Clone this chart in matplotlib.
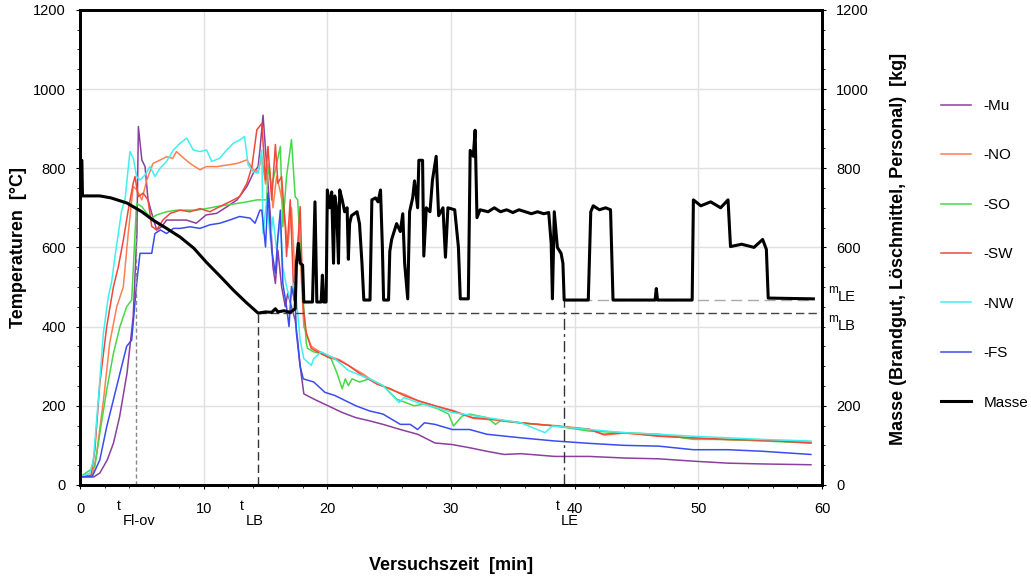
import matplotlib
matplotlib.use("Agg")
import matplotlib.pyplot as plt
import matplotlib.transforms as mtransforms
from matplotlib.ticker import MultipleLocator

plt.rcParams['font.family'] = ['Liberation Sans', 'DejaVu Sans']

# Temperatures [degC]
t_mu = [0, 1.1, 1.6, 2.2, 2.7, 3.2, 3.8, 4.3, 4.6, 4.72, 5.0, 5.26, 5.5, 5.8, 6.2, 6.6, 7.0, 7.8, 8.6, 9.4, 10.2, 11.05,
        11.9, 12.7, 13.5, 14.0, 14.4, 14.55, 14.8, 15.1, 15.4, 15.6, 15.8, 16.0, 16.3, 16.6, 16.8, 17.1, 17.4, 17.6, 17.8,
        18.1, 18.9, 20.05, 21.2, 22.3, 23.4, 24.5, 25.9, 27.3, 28.7, 30.1, 31.5, 32.9, 34.3, 35.65, 38.4, 41.2, 44.0,
        46.8, 49.6, 52.4, 55.2, 59.1]
mu = [20, 20, 30, 63, 105, 172, 282, 425, 635, 905, 821, 804, 720, 686, 644, 652, 669, 669, 669, 661, 682, 686,
      703, 720, 754, 787, 804, 846, 934, 804, 677, 551, 509, 593, 501, 450, 484, 450, 416, 366, 300,
      230, 217, 200, 183, 170, 162, 153, 140, 128, 106, 102, 94, 85, 77, 79, 72, 72, 68,
      66, 60, 55, 53, 51]

t_no = [0, 1.0, 1.35, 1.9, 2.4, 2.97, 3.5, 3.9, 4.3, 4.6, 5.0, 5.4, 5.9, 6.5, 7.0, 7.5, 7.8, 8.4, 8.9, 9.7, 10.2, 11.05,
        11.9, 12.7, 13.5, 14.0, 14.4, 14.7, 15.0, 15.3, 15.6, 15.9, 16.2, 16.5, 16.8, 17.1, 17.4, 17.7, 18.1, 18.7,
        19.3, 20.1, 21.0, 21.8, 22.9, 24.0, 25.2, 26.3, 27.4, 28.8, 30.2, 31.8, 33.5, 35.7, 38.4, 41.2, 42.4, 44.0,
        46.8, 49.6, 52.4, 55.2, 59.1]
no = [20, 22, 80, 215, 358, 450, 500, 635, 754, 745, 720, 770, 812, 821, 829, 825, 842, 825, 812, 796, 804, 804,
      808, 812, 821, 796, 791, 830, 760, 810, 700, 780, 740, 690, 600, 700, 520, 640, 400, 350,
      338, 326, 316, 300, 280, 256, 240, 228, 212, 199, 188, 168, 164, 156, 150, 141, 126, 131,
      124, 118, 114, 112, 108]

t_so = [0, 1.2, 1.6, 2.16, 2.7, 3.23, 3.77, 4.18, 4.45, 4.58, 5.0, 5.4, 5.8, 6.2, 7.0, 7.8, 8.6, 9.4, 10.2, 11.05, 11.9,
        12.7, 13.5, 14.3, 14.5, 15.1, 15.2, 15.5, 15.8, 16.2, 16.4, 16.7, 17.1, 17.4, 17.6, 17.8, 18.05, 18.3, 18.4,
        18.9, 19.5, 20.3, 20.75, 21.2, 21.45, 21.7, 22.0, 22.6, 23.4, 24.5, 25.6, 27.0, 27.85, 28.95, 29.8, 30.2,
        30.9, 31.5, 32.9, 33.6, 34.0, 35.65, 38.4, 41.2, 44.0, 46.8, 49.6, 52.4, 55.2, 59.1]
so = [20, 46, 130, 240, 332, 400, 450, 467, 635, 711, 703, 686, 674, 682, 690, 694, 694, 694, 698, 703, 707,
      711, 715, 720, 720, 720, 804, 754, 796, 855, 652, 779, 872, 728, 720, 610, 467, 358, 345,
      336, 332, 319, 285, 243, 268, 251, 268, 260, 268, 251, 217, 200, 204, 192, 179, 149,
      174, 179, 170, 153, 162, 157, 149, 136, 132, 128, 115, 115, 111, 106]

t_sw = [0, 0.9, 1.2, 1.6, 2.16, 2.7, 3.1, 3.5, 3.9, 4.3, 4.45, 4.7, 5.1, 5.5, 5.8, 6.2, 6.7, 7.3, 8.1, 8.9, 9.7, 10.5,
        11.3, 12.1, 12.9, 13.5, 13.9, 14.3, 14.7, 15.0, 15.2, 15.5, 15.8, 16.0, 16.3, 16.6, 16.7, 17.0, 17.3, 17.5,
        17.8, 18.05, 18.3, 18.7, 19.2, 20.05, 20.9, 21.7, 22.8, 24.0, 25.1, 26.2, 27.3, 28.7, 30.1, 31.75, 33.4,
        35.65, 38.4, 41.2, 42.3, 44.0, 46.8, 49.6, 52.4, 55.2, 59.1]
sw = [20, 25, 88, 256, 400, 500, 551, 618, 694, 762, 779, 728, 737, 720, 653, 644, 669, 686, 694, 690, 698, 690,
      703, 715, 728, 762, 804, 897, 913, 771, 855, 720, 860, 762, 779, 652, 577, 720, 467, 551,
      703, 450, 383, 345, 336, 323, 315, 302, 277, 255, 243, 226, 213, 200, 187, 170, 166,
      157, 149, 140, 128, 132, 123, 119, 115, 113, 106]

t_nw = [0, 0.8, 1.08, 1.48, 1.89, 2.29, 2.56, 2.83, 3.1, 3.37, 3.64, 3.91, 4.04, 4.31, 4.58, 4.85, 5.26, 5.66, 6.06,
        6.47, 7.0, 7.55, 8.09, 8.63, 9.16, 9.7, 10.24, 10.65, 11.3, 11.86, 12.4, 12.9, 13.3, 13.6, 14.0, 14.4, 14.7,
        14.8, 15.1, 15.4, 15.6, 15.9, 16.2, 16.4, 16.7, 17.0, 17.3, 17.5, 17.8, 18.1, 18.7, 18.9, 19.5, 20.6, 21.7,
        23.4, 24.5, 25.8, 26.2, 27.3, 28.7, 30.1, 32.9, 35.65, 37.6, 38.2, 41.2, 44.0, 46.8, 49.6, 52.4, 55.2, 59.1]
nw = [20, 30, 63, 215, 383, 476, 513, 577, 635, 694, 720, 804, 842, 825, 779, 770, 783, 804, 779,
      800, 817, 846, 863, 876, 846, 842, 846, 817, 825, 846, 863, 871, 880, 808, 791, 787, 846,
      635, 720, 618, 677, 593, 669, 551, 501, 467, 509, 467, 366, 319, 302, 319, 336, 319, 289,
      268, 251, 208, 221, 208, 196, 183, 170, 157, 132, 149, 140, 132, 128, 123, 119, 115, 111]

t_fs = [0, 1.0, 1.6, 2.16, 2.7, 3.23, 3.77, 4.18, 4.58, 4.85, 5.4, 5.8, 6.06, 6.5, 7.0, 7.55, 8.1, 8.9, 9.7, 10.5, 11.3,
        12.1, 12.9, 13.75, 14.15, 14.55, 14.7, 15.0, 15.2, 15.5, 15.8, 16.0, 16.2, 16.4, 16.7, 16.9, 17.1, 17.4, 17.5,
        17.8, 18.05, 18.9, 19.8, 20.6, 21.45, 22.3, 23.4, 24.5, 25.9, 26.7, 27.3, 27.85, 28.7, 30.1, 31.5, 32.9,
        35.65, 38.4, 41.2, 44.0, 46.8, 49.6, 52.4, 55.2, 59.1]
fs = [20, 22, 63, 147, 215, 282, 350, 366, 509, 585, 585, 585, 635, 644, 635, 648, 648, 652, 648, 657, 661,
      669, 678, 674, 661, 694, 694, 601, 737, 593, 534, 627, 694, 509, 450, 400, 501, 458, 383,
      300, 268, 260, 234, 226, 213, 200, 187, 179, 153, 153, 140, 157, 153, 140, 140, 128,
      119, 111, 105, 100, 98, 89, 89, 85, 77]

# Masse [kg] (Brandgut, Loeschmittel, Personal)
t_masse = [0.0, 0.15, 0.2, 1.6, 2.5, 3.8, 5.0, 5.9, 7.0, 8.1, 9.2, 10.2, 11.3, 12.4, 13.4, 14.4, 15.0, 15.5, 15.8, 16.0,
           16.5, 17.0, 17.4, 17.5, 17.65, 17.8, 18.0, 18.1, 18.8, 19.0, 19.15, 19.5, 19.6, 19.7, 19.9, 20.0, 20.2,
           20.35, 20.5, 20.6, 20.75, 20.9, 21.0, 21.2, 21.4, 21.6, 21.7, 21.8, 21.95, 22.4, 22.6, 22.8, 22.95, 23.45,
           23.6, 23.9, 24.1, 24.3, 24.45, 24.55, 24.95, 25.05, 25.2, 25.4, 25.6, 25.9, 26.1, 26.25, 26.5, 26.65, 26.9,
           27.05, 27.3, 27.4, 27.7, 27.8, 28.0, 28.3, 28.5, 28.8, 29.0, 29.35, 29.55, 29.75, 30.3, 30.6, 30.75, 31.4,
           31.55, 31.8, 31.95, 32.1, 32.35, 33.0, 33.5, 34.0, 34.5, 35.0, 35.5, 36.0, 36.5, 37.0, 37.5, 37.9, 38.1,
           38.2, 38.35, 38.6, 38.9, 39.05, 39.15, 41.1, 41.3, 41.5, 42.0, 42.5, 42.9, 43.1, 46.5, 46.6, 46.7, 49.5,
           49.6, 50.2, 51.0, 51.8, 52.4, 52.6, 53.5, 54.5, 55.2, 55.5, 55.65, 59.3]
masse = [820, 820, 730, 730, 725, 712, 690, 669, 648, 626, 598, 563, 528, 492, 462, 434, 437, 436, 445, 437,
         440, 436, 445, 560, 610, 560, 555, 462, 462, 715, 462, 462, 530, 462, 462, 745, 700,
         740, 560, 730, 700, 560, 745, 720, 690, 700, 570, 660, 680, 690, 660, 560, 467, 467,
         720, 725, 715, 745, 600, 467, 467, 590, 620, 640, 660, 640, 685, 560, 470, 690, 725,
         768, 700, 820, 820, 578, 700, 690, 770, 830, 680, 700, 575, 700, 695, 600, 470, 470,
         845, 830, 896, 675, 695, 690, 700, 690, 695, 688, 695, 690, 685, 690, 685, 688, 610,
         470, 690, 600, 585, 560, 467, 467, 690, 705, 695, 700, 695, 467, 467, 496, 467, 467,
         720, 705, 715, 700, 720, 602, 608, 600, 620, 595, 472, 470]

# characteristic times [min] and masses [kg]
t_flov = 4.5
t_lb = 14.4
t_le = 39.15
m_lb = 434
m_le = 467
m_flov = 700

series = [
    ("-Mu", t_mu, mu, "#8b3f9e"),
    ("-NO", t_no, no, "#ff7f50"),
    ("-SO", t_so, so, "#47d847"),
    ("-SW", t_sw, sw, "#f0483a"),
    ("-NW", t_nw, nw, "#3ff0f0"),
    ("-FS", t_fs, fs, "#3a4cef"),
]

fig = plt.figure(figsize=(10.31, 5.78), dpi=100)
ax = fig.add_axes([0.0776, 0.161, 0.7197, 0.822])
ax2 = ax.twinx()

for name, tt, vals, col in series:
    ax.plot(tt, vals, color=col, lw=1.1, label=name)

# reference lines
ax2.plot([t_flov, t_flov], [0, m_flov], color="#888888", lw=1.0, ls=(0, (3, 2)))
ax2.plot([t_lb, t_lb], [0, m_lb], color="#333333", lw=1.0, ls=(0, (6, 3)))
ax2.plot([t_lb, 60], [m_lb, m_lb], color="#444444", lw=1.0, ls=(0, (6, 3)))
ax2.plot([t_le, t_le], [0, m_le], color="#333333", lw=1.0, ls=(0, (8, 3, 2, 3)))
ax2.plot([t_le, 59.3], [m_le, m_le], color="#aaaaaa", lw=1.0, ls=(0, (8, 4)))

ax2.plot(t_masse, masse, color="black", lw=2.2, label="Masse")

# axes
ax.set_xlim(0, 60)
ax.set_ylim(0, 1200)
ax2.set_ylim(0, 1200)
ax.xaxis.set_major_locator(MultipleLocator(10))
ax.xaxis.set_minor_locator(MultipleLocator(2))
ax.yaxis.set_major_locator(MultipleLocator(200))
ax.yaxis.set_minor_locator(MultipleLocator(50))
ax2.set_yticks([0, 200, 600, 800, 1000, 1200])
ax2.yaxis.set_minor_locator(MultipleLocator(50))
ax.grid(True, which="major", color="#e0e0e0", lw=1.0)
ax.set_axisbelow(True)

for a in (ax, ax2):
    for sp in a.spines.values():
        sp.set_linewidth(2)
    a.tick_params(which="major", length=3, width=0.8, labelsize=10.5)
    a.tick_params(which="minor", length=2, width=0.6)
ax.tick_params(axis="x", pad=9)
ax.tick_params(axis="y", pad=7)
ax2.tick_params(axis="y", pad=7)

ax.set_xlabel("Versuchszeit  [min]", fontsize=13, fontweight="bold")
ax.xaxis.set_label_coords(0.5, -0.152)
ax.set_ylabel("Temperaturen  [°C]", fontsize=13, fontweight="bold")
ax.yaxis.set_label_coords(-0.071, 0.5)
ax2.set_ylabel("Masse (Brandgut, Löschmittel, Personal)  [kg]", fontsize=13, fontweight="bold")
ax2.yaxis.set_label_coords(1.092, 0.497)

# time markers below the x axis
trx = mtransforms.blended_transform_factory(ax.transData, ax.transAxes)
for tx, sub in [(3.0, "Fl-ov"), (12.95, "LB"), (38.45, "LE")]:
    ax.text(tx, -0.045, "t", transform=trx, fontsize=10, ha="left", va="center")
    ax.text(tx + 0.45, -0.075, sub, transform=trx, fontsize=10.5, ha="left", va="center")

# mass markers on the right axis
tr2 = mtransforms.blended_transform_factory(ax2.transAxes, ax2.transData)
for yv, sub in [(475, "LE"), (401, "LB")]:
    ax2.text(1.008, yv + 17, "m", transform=tr2, fontsize=8.5, ha="left", va="center")
    ax2.text(1.0215, yv, sub, transform=tr2, fontsize=10.5, ha="left", va="center")

h1, l1 = ax.get_legend_handles_labels()
h2, l2 = ax2.get_legend_handles_labels()
fig.legend(h1 + h2, l1 + l2, loc="upper left", bbox_to_anchor=(0.905, 0.842), frameon=False,
           fontsize=11, handlelength=2.0, handletextpad=0.8, labelspacing=2.32, borderpad=0)

fig.savefig("out.png", dpi=100)
